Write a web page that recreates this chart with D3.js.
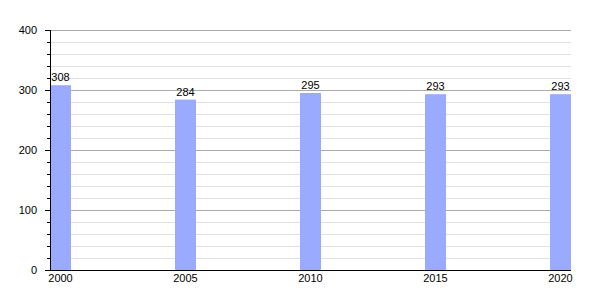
<!DOCTYPE html>
<html>
<head>
<meta charset="utf-8">
<script src="https://cdn.jsdelivr.net/npm/d3@7"></script>
<style>
  body { margin: 0; background: #fff; }
  svg { font-family: "Liberation Sans", Arial, sans-serif; }
</style>
</head>
<body>
<svg id="chart" width="600" height="300"></svg>
<script>
  // values
  var years = [2000, 2005, 2010, 2015, 2020];
  var values = [308, 284, 295, 293, 293];
  var yMajor = [0, 100, 200, 300, 400];

  var margin = {top: 30, right: 29, bottom: 30, left: 50};
  var width = 600, height = 300;
  var barW = 21;

  var svg = d3.select("#chart");
  var g = svg.append("g")
    .attr("transform", "translate(" + margin.left + "," + margin.top + ")");

  var innerW = width - margin.left - margin.right;
  var innerH = height - margin.top - margin.bottom;

  var x = d3.scaleLinear()
    .domain([2000, 2020])
    .range([0, innerW - barW]);

  var y = d3.scaleLinear()
    .domain([0, 400])
    .range([innerH, 0]);

  // minor grid every 20
  var minor = d3.range(0, 401, 20).filter(function(v) { return v % 100 != 0; });
  g.selectAll(".minor").data(minor).enter().append("line")
    .attr("x1", 0).attr("x2", innerW)
    .attr("y1", function(d) { return y(d) + 0.5; })
    .attr("y2", function(d) { return y(d) + 0.5; })
    .attr("stroke", "#e0e0e0");

  g.selectAll(".major").data(yMajor.slice(1)).enter().append("line")
    .attr("x1", 0).attr("x2", innerW)
    .attr("y1", function(d) { return y(d) + 0.5; })
    .attr("y2", function(d) { return y(d) + 0.5; })
    .attr("stroke", "#aaaaaa");

  g.selectAll(".bar").data(years).enter().append("rect")
    .attr("x", function(d) { return x(d); })
    .attr("y", function(d, i) { return y(values[i]); })
    .attr("width", barW)
    .attr("height", function(d, i) { return innerH - y(values[i]); })
    .attr("fill", "#99aaff");

  g.selectAll(".val").data(years).enter().append("text")
    .attr("x", function(d) { return x(d) + barW / 2; })
    .attr("y", function(d, i) { return y(values[i]) - 4; })
    .attr("text-anchor", "middle")
    .attr("font-size", 11)
    .text(function(d, i) { return values[i]; });

  // left axis with minor ticks
  var yAxis = g.append("g")
    .call(d3.axisLeft(y).tickValues(yMajor).tickSize(5).tickPadding(8).tickFormat(d3.format("d")));
  yAxis.selectAll("text").attr("font-size", 11).attr("fill", "#000");
  yAxis.select(".domain").remove();
  g.append("g")
    .call(d3.axisLeft(y).tickValues(minor).tickSize(3).tickFormat(""))
    .select(".domain").remove();
  g.append("line")
    .attr("x1", 0.5).attr("x2", 0.5)
    .attr("y1", 0).attr("y2", innerH)
    .attr("stroke", "#000");

  // bottom axis
  g.append("line")
    .attr("x1", -5).attr("x2", innerW)
    .attr("y1", innerH + 0.5).attr("y2", innerH + 0.5)
    .attr("stroke", "#000");

  g.selectAll(".yr").data(years).enter().append("text")
    .attr("x", function(d) { return x(d) + barW / 2; })
    .attr("y", innerH + 12)
    .attr("text-anchor", "middle")
    .attr("font-size", 11)
    .text(function(d) { return d; });
</script>
</body>
</html>
